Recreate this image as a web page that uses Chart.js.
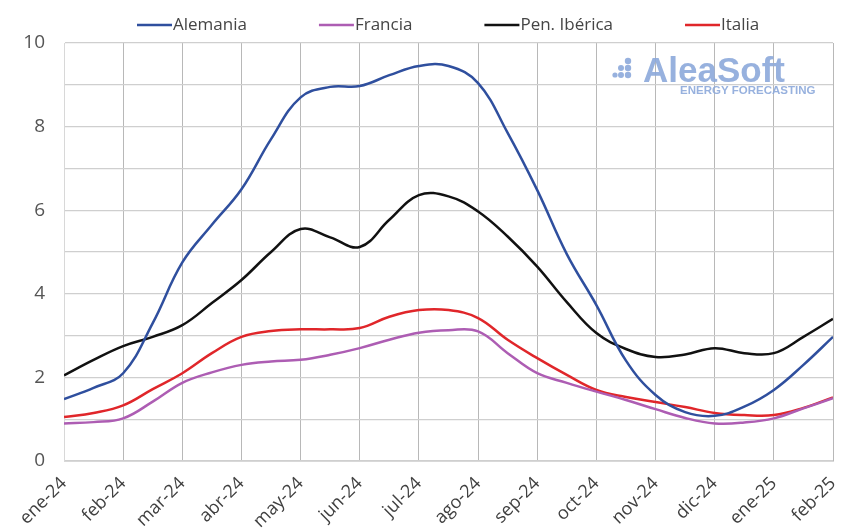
<!DOCTYPE html>
<html>
<head>
<meta charset="utf-8">
<script src="https://cdn.jsdelivr.net/npm/chart.js@4.4.1/dist/chart.umd.min.js"></script>
<style>
    html, body { margin: 0; padding: 0; background: #fff; }
    #wrap { width: 857px; height: 531px; position: relative; }
</style>
</head>
<body>
<div id="wrap"><canvas id="chart" width="857" height="531"></canvas></div>
<script>
// month labels (one tick per month)
const monthLabels = ['ene-24', 'feb-24', 'mar-24', 'abr-24', 'may-24', 'jun-24', 'jul-24',
    'ago-24', 'sep-24', 'oct-24', 'nov-24', 'dic-24', 'ene-25', 'feb-25'];

// positions along the month axis, half-month steps
const xPos = [0, 0.5, 1, 1.5, 2, 2.5, 3, 3.5, 4, 4.5, 5, 5.5, 6, 6.5, 7,
    7.5, 8, 8.5, 9, 9.5, 10, 10.5, 11, 11.5, 12, 12.5, 13];

const alemania = [1.48, 1.75, 2.1, 3.3, 4.75, 5.65, 6.5, 7.7, 8.7, 8.95, 8.97, 9.23, 9.45,
    9.45, 9.04, 7.85, 6.48, 4.95, 3.73, 2.4, 1.58, 1.17, 1.08, 1.3, 1.7, 2.3, 2.97];
const francia = [0.9, 0.93, 1.02, 1.42, 1.87, 2.12, 2.3, 2.38, 2.42, 2.54, 2.7, 2.9, 3.07,
    3.13, 3.1, 2.58, 2.1, 1.87, 1.66, 1.46, 1.24, 1.03, 0.9, 0.92, 1.02, 1.26, 1.5];
const penIberica = [2.05, 2.42, 2.75, 2.97, 3.25, 3.78, 4.33, 5.0, 5.55, 5.35, 5.12, 5.77, 6.36,
    6.33, 5.97, 5.37, 4.65, 3.8, 3.06, 2.68, 2.49, 2.55, 2.7, 2.58, 2.58, 2.97, 3.4];
const italia = [1.05, 1.15, 1.33, 1.72, 2.1, 2.58, 2.97, 3.11, 3.15, 3.15, 3.18, 3.45, 3.61,
    3.61, 3.42, 2.9, 2.46, 2.06, 1.7, 1.53, 1.41, 1.29, 1.15, 1.1, 1.1, 1.27, 1.52];

const yTicks = [0, 2, 4, 6, 8, 10];

function toPoints(values) {
    return values.map((v, i) => ({ x: xPos[i], y: v }));
}

function series(label, values, color) {
    return {
        label: label,
        data: toPoints(values),
        borderColor: color,
        backgroundColor: color,
        borderWidth: 2.5,
        pointRadius: 0,
        tension: 0.4,
        fill: false
    };
}

// legend + watermark drawn by hand
const extras = {
    id: 'extras',
    beforeDatasetsDraw(chart) {
        const ctx = chart.ctx;
        ctx.save();
        ctx.fillStyle = 'rgba(140, 168, 218, 0.9)';
        // logo dots
        const dots = [[615, 75, 2.6], [621, 68, 3], [621, 75, 3], [628, 61, 3.2], [628, 68, 3.2], [628, 75, 3.2]];
        dots.forEach(d => { ctx.beginPath(); ctx.arc(d[0], d[1], d[2], 0, Math.PI * 2); ctx.fill(); });
        ctx.font = 'bold 35px "Liberation Sans", Arial, sans-serif';
        ctx.textBaseline = 'alphabetic';
        ctx.fillText('AleaSoft', 643, 82);
        ctx.font = 'bold 11.5px "Liberation Sans", Arial, sans-serif';
        ctx.fillText('ENERGY FORECASTING', 680, 94);
        ctx.restore();
    },
    afterDraw(chart) {
        const ctx = chart.ctx;
        const sets = chart.data.datasets;
        ctx.save();
        ctx.font = '17px "Open Sans", sans-serif';
        ctx.textBaseline = 'middle';
        const sample = 35, gap = 1, spacing = 72;
        const widths = sets.map(s => sample + gap + ctx.measureText(s.label).width);
        let x = 137;
        const y = 25;
        sets.forEach((s, i) => {
            ctx.strokeStyle = s.borderColor;
            ctx.lineWidth = 2.5;
            ctx.beginPath();
            ctx.moveTo(x, y);
            ctx.lineTo(x + sample, y);
            ctx.stroke();
            ctx.fillStyle = '#454545';
            ctx.fillText(s.label, x + sample + gap, y);
            x += widths[i] + spacing;
        });
        ctx.restore();
    }
};

new Chart(document.getElementById('chart'), {
    type: 'line',
    data: {
        datasets: [
            series('Alemania', alemania, '#2f4f9e'),
            series('Francia', francia, '#ad5db3'),
            series('Pen. Ibérica', penIberica, '#111111'),
            series('Italia', italia, '#e0262a')
        ]
    },
    options: {
        responsive: false,
        animation: false,
        layout: { padding: { top: 43, right: 24, left: 0, bottom: 0 } },
        plugins: {
            legend: { display: false },
            tooltip: { enabled: false }
        },
        scales: {
            x: {
                type: 'linear',
                min: 0,
                max: 13,
                afterBuildTicks: (scale) => {
                    scale.ticks = monthLabels.map((l, i) => ({ value: i }));
                },
                afterFit: (scale) => {
                    scale.height = 70;
                    scale.paddingRight = 0;
                    scale.paddingLeft = 0;
                },
                ticks: {
                    autoSkip: false,
                    maxRotation: 45,
                    minRotation: 45,
                    color: '#404040',
                    font: { family: '"Open Sans", sans-serif', size: 18 },
                    padding: 12,
                    callback: (v) => monthLabels[v]
                },
                grid: { color: '#b8b8b8', lineWidth: 1, drawTicks: false },
                border: { color: '#d8d8d8' }
            },
            y: {
                min: 0,
                max: 10,
                afterBuildTicks: (scale) => {
                    scale.ticks = [0, 1, 2, 3, 4, 5, 6, 7, 8, 9, 10].map(v => ({ value: v }));
                },
                afterFit: (scale) => { scale.width = 64; },
                ticks: {
                    color: '#555555',
                    font: { family: '"Open Sans", sans-serif', size: 19 },
                    padding: 19,
                    callback: (v) => yTicks.includes(v) ? v : ''
                },
                grid: { color: '#cfcfcf', lineWidth: 1.2, drawTicks: false },
                border: { color: '#d8d8d8' }
            }
        }
    },
    plugins: [extras]
});
</script>
</body>
</html>
